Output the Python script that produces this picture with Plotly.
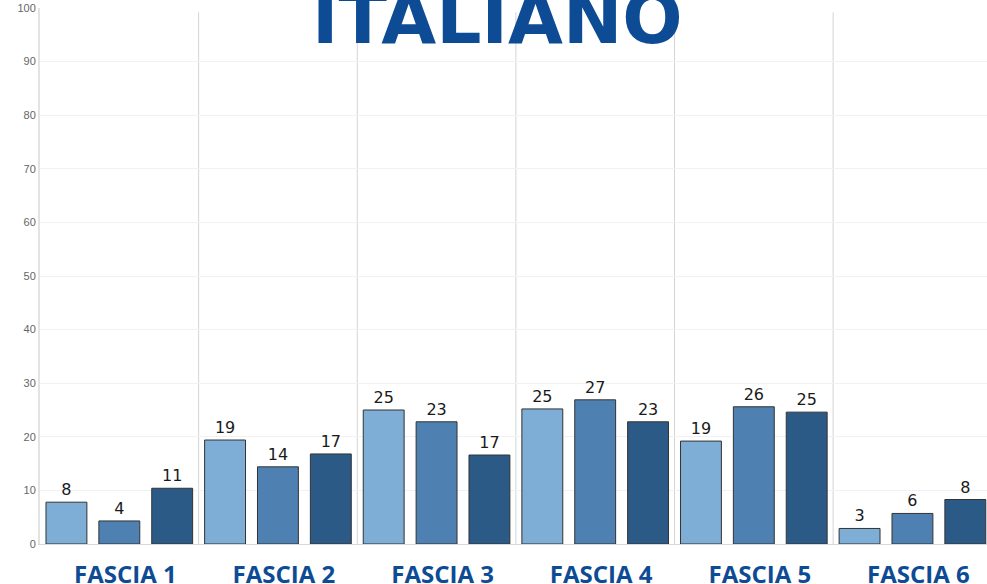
import plotly.graph_objects as go

categories = ["FASCIA 1", "FASCIA 2", "FASCIA 3", "FASCIA 4", "FASCIA 5", "FASCIA 6"]
serie_a = [7.8, 19.4, 25.0, 25.2, 19.2, 2.9]
serie_b = [4.3, 14.4, 22.8, 26.9, 25.6, 5.7]
serie_c = [10.4, 16.8, 16.6, 22.8, 24.6, 8.3]
labels_a = [8, 19, 25, 25, 19, 3]
labels_b = [4, 14, 23, 27, 26, 6]
labels_c = [11, 17, 17, 23, 25, 8]
y_ticks = list(range(0, 101, 10))

colors = ["#7eadd5", "#4f80b2", "#2c5a87"]
bar_w = 41 / 159
offsets = [-0.5 + 6 / 159, -0.5 + 59 / 159, -0.5 + 112 / 159]

fig = go.Figure()
for vals, labs, col, off in zip(
    [serie_a, serie_b, serie_c], [labels_a, labels_b, labels_c], colors, offsets
):
    fig.add_trace(
        go.Bar(
            x=categories,
            y=vals,
            text=[str(v) for v in labs],
            textposition="outside",
            textfont=dict(size=16, color="#1a1a1a", family="DejaVu Sans"),
            marker=dict(color=col, line=dict(color="#333333", width=1)),
            width=bar_w,
            offset=off,
            cliponaxis=False,
            showlegend=False,
            hoverinfo="skip",
        )
    )

# separators between groups
for i in range(1, len(categories)):
    fig.add_shape(
        type="line", xref="x", yref="paper",
        x0=i - 0.5, x1=i - 0.5, y0=0, y1=0.992,
        line=dict(color="#d4d4d4", width=1), layer="below",
    )

fig.add_annotation(
    text="<b>ITALIANO</b>", xref="paper", yref="paper",
    x=0.4835, y=0.9795, xanchor="center", yanchor="middle",
    showarrow=False,
    font=dict(size=71, color="#0d4c94", family="DejaVu Sans"),
)

fig.update_layout(
    width=987, height=584,
    margin=dict(l=40, r=0, t=8, b=40),
    plot_bgcolor="white", paper_bgcolor="white",
    barmode="group",
    xaxis=dict(
        range=[-0.5, 5.47],
        automargin=False,
        tickfont=dict(size=24, color="#0d4c94", family="Open Sans", weight="bold"),
        ticks="outside", ticklen=9, tickcolor="rgba(0,0,0,0)",
        ticklabelshift=6,
        showline=True, linecolor="#d8d8d8", linewidth=1,
        showgrid=False, zeroline=False,
    ),
    yaxis=dict(
        range=[0, 100],
        automargin=False,
        tickvals=y_ticks,
        tickfont=dict(size=11, color="#666666", family="Liberation Sans"),
        showgrid=True, gridcolor="#f1f1f1",
        showline=True, linecolor="#e3e3e3", linewidth=2,
        zeroline=False,
    ),
)

# page body has a default 8px margin; drop it so the figure sits at the corner
fig.write_html(
    "out.html",
    config={"displayModeBar": False},
    post_script="document.body.style.margin = '0';",
)
